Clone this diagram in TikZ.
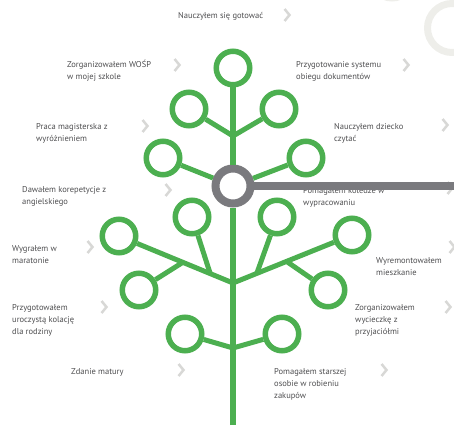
\documentclass[tikz,border=0pt]{standalone}
\usepackage{fontspec}
\setmainfont{PT Sans}
\usetikzlibrary{calc}
\definecolor{leafgreen}{RGB}{76,175,80}
\definecolor{rootgrey}{RGB}{122,122,126}
\definecolor{goalgrey}{RGB}{78,78,80}
\definecolor{chevgrey}{RGB}{216,216,214}
\definecolor{ringgrey}{RGB}{238,238,234}
\begin{document}
\begin{tikzpicture}[x=1pt,y=1pt,
    leaf/.style={circle,draw=leafgreen,line width=5.5pt,fill=white,minimum size=33.5pt,inner sep=0pt},
    hub/.style={circle,draw=rootgrey,line width=8pt,fill=white,minimum size=35pt,inner sep=0pt},
    branch/.style={leafgreen,line width=5pt},
    goal/.style={anchor=base west,align=left,text=goalgrey,inner sep=0pt,
        font=\fontsize{8.5}{12}\selectfont},
    chev/.style={chevgrey,line width=2.5pt}]
    \useasboundingbox (0,0) rectangle (454,-425);
    \clip (0,0) rectangle (454,-425);
    % faint rings in the corner
    \draw [ringgrey,line width=7pt] (452,-28) circle (24.5);
    \draw [ringgrey,line width=7pt] (392,23) circle (21);
    % chevrons
    \foreach \x/\y in {287/15,177/65,406/65,145/126,445/125,168/190,450/188,
        90/247,452/247,104/307,448/307,181/370,384/370}
        \draw [chev] (\x-2.5,-\y+6) -- (\x+2.5,-\y) -- (\x-2.5,-\y-6);
    % texts (placed at the baseline of the last line)
    \node [goal] (gotowac) at (178,-18.5) {Nauczyłem się gotować};
    \node [goal] (wosp) at (67,-79.5) {Zorganizowałem WOŚP\\w mojej szkole};
    \node [goal] (obieg) at (296,-79.5) {Przygotowanie systemu\\obiegu dokumentów};
    \node [goal] (praca) at (36,-141.5) {Praca magisterska z\\wyróżnieniem};
    \node [goal] (dziecko) at (334,-141.5) {Nauczyłem dziecko\\czytać};
    \node [goal] (korki) at (22,-204.5) {Dawałem korepetycje z\\angielskiego};
    \node [goal] (kolega) at (303,-205) {Pomagałem koledze w\\wypracowaniu};
    \node [goal] (maraton) at (12,-263.5) {Wygrałem w\\maratonie};
    \node [goal] (remont) at (376,-275.5) {Wyremontowałem\\mieszkanie};
    \node [goal] (kolacja) at (12,-334) {Przygotowałem\\uroczystą kolację\\dla rodziny};
    \node [goal] (wycieczka) at (355,-334.5) {Zorganizowałem\\wycieczkę z\\przyjaciółmi};
    \node [goal] (matura) at (71,-374.5) {Zdanie matury};
    \node [goal] (zakupy) at (274,-398.5) {Pomagałem starszej\\osobie w robieniu\\zakupów};
    % circles
    \node [hub] (now) at (233,-186) {};
    \node [leaf] (top) at (233,-68) {};
    \node [leaf] (ul) at (189,-109) {};
    \node [leaf] (ur) at (279,-109) {};
    \node [leaf] (ml) at (163,-158) {};
    \node [leaf] (mr) at (306,-158) {};
    \node [leaf] (ll) at (192,-217) {};
    \node [leaf] (lr) at (277,-217) {};
    \node [leaf] (fl) at (119,-236) {};
    \node [leaf] (fr) at (352,-235) {};
    \node [leaf] (dl) at (139,-290) {};
    \node [leaf] (dr) at (328,-290) {};
    \node [leaf] (bl) at (185,-334) {};
    \node [leaf] (br) at (282,-334) {};
    % junctions
    \coordinate (root) at (233,-425);
    \coordinate (jtop) at (233,-136);
    \coordinate (jlow) at (233,-283);
    \coordinate (jbot) at (233,-348);
    \coordinate (jl1) at ($(jlow)!0.2!(fl)$);
    \coordinate (jl2) at ($(jlow)!0.44!(fl)$);
    \coordinate (jr1) at ($(jlow)!0.2!(fr)$);
    \coordinate (jr2) at ($(jlow)!0.45!(fr)$);
    \coordinate (barend) at (454,-186);
    % trunk and branches
    \draw [branch,line width=5.5pt] (root) -- (now);
    \draw [branch,line width=5.5pt] (now) -- (top);
    \draw [branch] (jtop) -- (ul);
    \draw [branch] (jtop) -- (ur);
    \draw [branch] (now) -- (ml);
    \draw [branch] (now) -- (mr);
    \draw [branch] (jlow) -- (fl);
    \draw [branch] (jlow) -- (fr);
    \draw [branch] (jl1) -- (ll);
    \draw [branch] (jl2) -- (dl);
    \draw [branch] (jr1) -- (lr);
    \draw [branch] (jr2) -- (dr);
    \draw [branch] (jbot) -- (bl);
    \draw [branch] (jbot) -- (br);
    % grey bar
    \draw [rootgrey,line width=7.5pt,shorten <=-2pt] (now) -- (barend);
\end{tikzpicture}
\end{document}
